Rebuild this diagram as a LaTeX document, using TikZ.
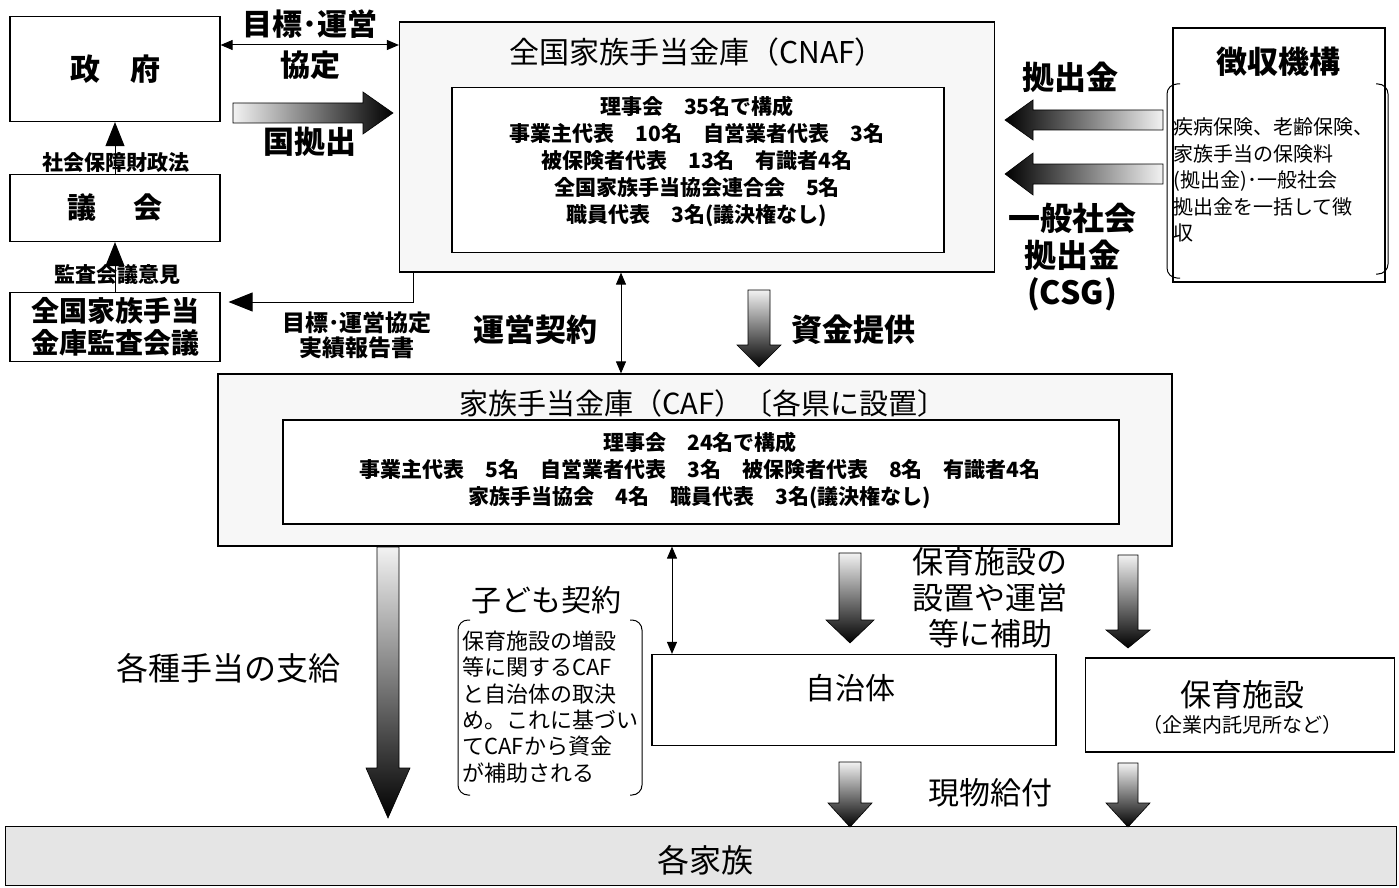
\documentclass[tikz,border=0pt]{standalone}
\usepackage{fontspec}
\setmainfont{Noto Sans CJK JP}
\usetikzlibrary{arrows.meta}

\newcommand{\fsz}[2]{\fontsize{#1}{#2}\selectfont}
% block arrow down: x, top, head start, tip, half body, half head
\newcommand{\blkdown}[6]{\shade[top color=black!5, bottom color=black, draw=black, line width=0.6pt]
  (#1-#5,#2) -- (#1+#5,#2) -- (#1+#5,#3) -- (#1+#6,#3) -- (#1,#4) -- (#1-#6,#3) -- (#1-#5,#3) -- cycle;}
% block arrow sideways: shading, y, tail, head start, tip, half body, half head
\newcommand{\blkside}[7]{\shade[#1, draw=black, line width=0.6pt]
  (#3,#2-#6) -- (#4,#2-#6) -- (#4,#2-#7) -- (#5,#2) -- (#4,#2+#7) -- (#4,#2+#6) -- (#3,#2+#6) -- cycle;}

\begin{document}
\begin{tikzpicture}[x=1pt,y=-1pt,line width=1pt,
    box/.style={draw, line width=1.2pt, inner sep=0pt},
    txt/.style={inner sep=0pt, align=center},
    tip/.style={-{Triangle[length=24pt,width=19pt]}},
    dbl/.style={{Triangle[length=12pt,width=10pt]}-{Triangle[length=12pt,width=10pt]}}]
    \useasboundingbox (0,0) rectangle (1399,888);

    % left column
    \node[box, minimum width=210pt, minimum height=105pt, font=\fsz{30}{36}\bfseries] (seifu) at (115,69) {政\hspace{30pt}府};
    \node[box, minimum width=210pt, minimum height=67pt, font=\fsz{29}{34}\bfseries] (gikai) at (115,208) {議\hspace{38pt}会};
    \node[box, minimum width=210pt, minimum height=69pt, align=center, font=\fsz{28}{32}\bfseries] (kansa) at (115,327) {全国家族手当\\金庫監査会議};

    % CNAF
    \node[box, fill=black!3, minimum width=595pt, minimum height=250pt] (cnaf) at (697,147) {};
    \node[txt, font=\fsz{30}{36}] (cnaftitle) at (697,52) {全国家族手当金庫（CNAF）};
    \node[box, fill=white, minimum width=492pt, minimum height=165pt] (cnafboard) at (698,170) {};
    \node[txt, font=\fsz{21}{27}\bfseries] (cnaftext) at (697,161) {理事会\quad 35名で構成\\
        事業主代表\quad 10名\quad 自営業者代表\quad 3名\\
        被保険者代表\quad 13名\quad 有識者4名\\
        全国家族手当協会連合会\quad 5名\\
        職員代表\quad 3名(議決権なし)};

    % collection body
    \node[box, minimum width=212pt, minimum height=254pt] (chosyu) at (1279,155) {};
    \node[txt, font=\fsz{31}{36}\bfseries] (chosyutitle) at (1278,62) {徴収機構};
    \draw[rounded corners=10pt] (1180,84) -- (1167,84) -- (1167,278) -- (1180,278);
    \draw[rounded corners=10pt] (1376,84) -- (1388,84) -- (1388,274) -- (1376,274);
    \node[txt, align=left, anchor=west, font=\fsz{20}{26.5}] (chosyutext) at (1173,180) {疾病保険、老齢保険、\\
        家族手当の保険料\\
        (拠出金)･一般社会\\
        拠出金を一括して徴\\
        収};

    % CAF
    \node[box, fill=black!3, minimum width=954pt, minimum height=172pt] (caf) at (695,460) {};
    \node[txt, font=\fsz{29}{34}] (caftitle) at (703,403) {家族手当金庫（CAF）〔各県に設置〕};
    \node[box, fill=white, minimum width=836pt, minimum height=104pt] (cafboard) at (701,472) {};
    \node[txt, font=\fsz{21}{27}\bfseries] (caftext) at (700,470) {理事会\quad 24名で構成\\
        事業主代表\quad 5名\quad 自営業者代表\quad 3名\quad 被保険者代表\quad 8名\quad 有識者4名\\
        家族手当協会\quad 4名\quad 職員代表\quad 3名(議決権なし)};

    % lower boxes
    \node[box, minimum width=404pt, minimum height=91pt] (jichitai) at (854,700) {};
    \node[txt, font=\fsz{30}{36}] (jichitaitext) at (850,688) {自治体};
    \node[box, minimum width=309pt, minimum height=94pt] (hoiku) at (1240,705) {};
    \node[txt, font=\fsz{31}{36}] (hoikutext) at (1242,695) {保育施設};
    \node[txt, font=\fsz{20}{24}] (hoikusub) at (1242,725) {（企業内託児所など）};
    \node[box, fill=black!10, minimum width=1391pt, minimum height=59pt] (kazoku) at (701,856) {};
    \node[txt, font=\fsz{32}{36}] (kazokutext) at (705,860) {各家族};

    % labels under the thin arrows
    \node[txt, font=\fsz{21}{25}\bfseries] (zaiseiho) at (116,163) {社会保障財政法};
    \node[txt, font=\fsz{21}{25}\bfseries] (iken) at (117,275) {監査会議意見};

    % thin connectors
    \draw[tip] (gikai.north) -- (seifu.south);
    \draw[tip] (kansa.north) -- (gikai.south);
    \draw[dbl] (seifu.east |- 0,45) -- (cnaf.west |- 0,45);
    \draw[tip, shorten >=8pt] ([xshift=15pt]cnaf.south west) |- ([yshift=25pt]kansa.east);
    \draw[dbl] (cnaf.south -| 621,0) -- (caf.north -| 621,0);
    \draw[dbl] (caf.south -| 672,0) -- (jichitai.north -| 672,0);

    % block arrows
    \blkside{left color=black!5, right color=black}{113}{233}{363}{393}{10}{21}
    \blkside{left color=black, right color=black!5}{120}{1163}{1033}{1005}{10}{20}
    \blkside{left color=black, right color=black!5}{174}{1163}{1033}{1005}{10}{21}
    \blkdown{759}{290}{345}{367}{11}{22}
    \blkdown{388}{547}{768}{818}{11}{22}
    \blkdown{850}{553}{620}{643}{11}{24}
    \blkdown{1128}{555}{630}{648}{10}{22}
    \blkdown{850}{762}{803}{827}{11}{22}
    \blkdown{1128}{763}{803}{827}{10}{22}

    % labels
    \node[txt, font=\fsz{30}{41}\bfseries] (kyotei) at (310,45) {目標･運営\\協定};
    \node[txt, font=\fsz{31}{36}\bfseries] (kokukyo) at (310,142) {国拠出};
    \node[txt, font=\fsz{32}{36}\bfseries] (kyoshutsu) at (1070,77) {拠出金};
    \node[txt, font=\fsz{32}{37}\bfseries] (csg) at (1072,257) {一般社会\\拠出金\\(CSG)};
    \node[txt, font=\fsz{23}{25}\bfseries] (jisseki) at (357,335) {目標･運営協定\\実績報告書};
    \node[txt, font=\fsz{31}{36}\bfseries] (uneikeiyaku) at (535,330) {運営契約};
    \node[txt, font=\fsz{31}{36}\bfseries] (shikin) at (853,330) {資金提供};
    \node[txt, font=\fsz{32}{36}] (teate) at (228,668) {各種手当の支給};
    \node[txt, font=\fsz{30}{36}] (kodomo) at (546,600) {子ども契約};
    \draw[rounded corners=10pt] (470,620) -- (458,620) -- (458,795) -- (470,795);
    \draw[rounded corners=10pt] (630,620) -- (642,620) -- (642,795) -- (630,795);
    \node[txt, align=left, anchor=west, font=\fsz{22}{26.4}] (kodomotext) at (462,707) {保育施設の増設\\
        等に関するCAF\\
        と自治体の取決\\
        め。これに基づい\\
        てCAFから資金\\
        が補助される};
    \node[txt, font=\fsz{31}{36}] (hojo) at (990,598) {保育施設の\\設置や運営\\等に補助};
    \node[txt, font=\fsz{31}{36}] (genbutsu) at (990,793) {現物給付};
\end{tikzpicture}
\end{document}
